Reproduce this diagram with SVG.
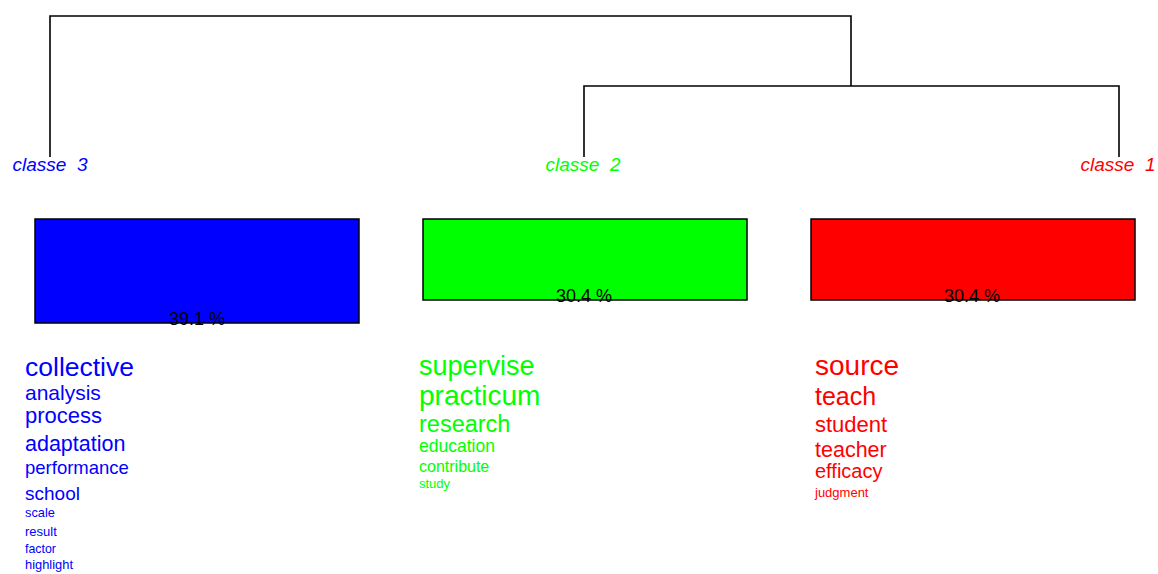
<svg xmlns="http://www.w3.org/2000/svg" width="1158" height="574" viewBox="0 0 1158 574">
<style>
text{font-family:"Liberation Sans",Arial,sans-serif}
.lab{font-style:italic;font-size:19px;text-anchor:middle;white-space:pre}
.pct{font-size:18px;text-anchor:middle;fill:#000}
.edge{fill:none;stroke:#000;stroke-width:1.6}
.box{stroke:none}
.frame{fill:none;stroke:#000;stroke-width:1.5}
.b{fill:#0000FF}.g{fill:#00FF00}.r{fill:#FF0000}
</style>
<rect width="1158" height="574" fill="#fff"/>
<g id="connectors">
<path class="edge" d="M50,157 V16 H851 V86"/>
<path class="edge" d="M584,157 V86 H1119 V157"/>
</g>
<g id="classe3">
<text class="lab b" x="50" y="171" xml:space="preserve">classe  3</text>
<rect class="box b" x="35" y="219" width="324" height="104"/>
<text class="pct" x="197" y="325">39.1 %</text>
<rect class="frame" x="35" y="219" width="324" height="104"/>
<text class="b" x="25" y="376" font-size="26.5">collective</text>
<text class="b" x="25" y="400" font-size="21">analysis</text>
<text class="b" x="25" y="423" font-size="22">process</text>
<text class="b" x="25" y="451" font-size="21.5">adaptation</text>
<text class="b" x="25" y="474" font-size="18.5">performance</text>
<text class="b" x="25" y="500" font-size="19">school</text>
<text class="b" x="25" y="517" font-size="12.8">scale</text>
<text class="b" x="25" y="536" font-size="13">result</text>
<text class="b" x="25" y="553" font-size="12.4">factor</text>
<text class="b" x="25" y="569" font-size="12.9">highlight</text>
</g>
<g id="classe2">
<text class="lab g" x="583" y="171" xml:space="preserve">classe  2</text>
<rect class="box g" x="423" y="219" width="324" height="81"/>
<text class="pct" x="584" y="302">30.4 %</text>
<rect class="frame" x="423" y="219" width="324" height="81"/>
<text class="g" x="419" y="375" font-size="27">supervise</text>
<text class="g" x="419" y="405" font-size="28">practicum</text>
<text class="g" x="419" y="432" font-size="23.5">research</text>
<text class="g" x="419" y="452" font-size="17.5">education</text>
<text class="g" x="419" y="472" font-size="16">contribute</text>
<text class="g" x="419" y="488" font-size="13">study</text>
</g>
<g id="classe1">
<text class="lab r" x="1118" y="171" xml:space="preserve">classe  1</text>
<rect class="box r" x="811" y="219" width="324" height="81"/>
<text class="pct" x="972" y="302">30.4 %</text>
<rect class="frame" x="811" y="219" width="324" height="81"/>
<text class="r" x="815" y="375" font-size="28">source</text>
<text class="r" x="815" y="405" font-size="25">teach</text>
<text class="r" x="815" y="432" font-size="22">student</text>
<text class="r" x="815" y="457" font-size="21.5">teacher</text>
<text class="r" x="815" y="478" font-size="20">efficacy</text>
<text class="r" x="815" y="497" font-size="13">judgment</text>
</g>
</svg>
